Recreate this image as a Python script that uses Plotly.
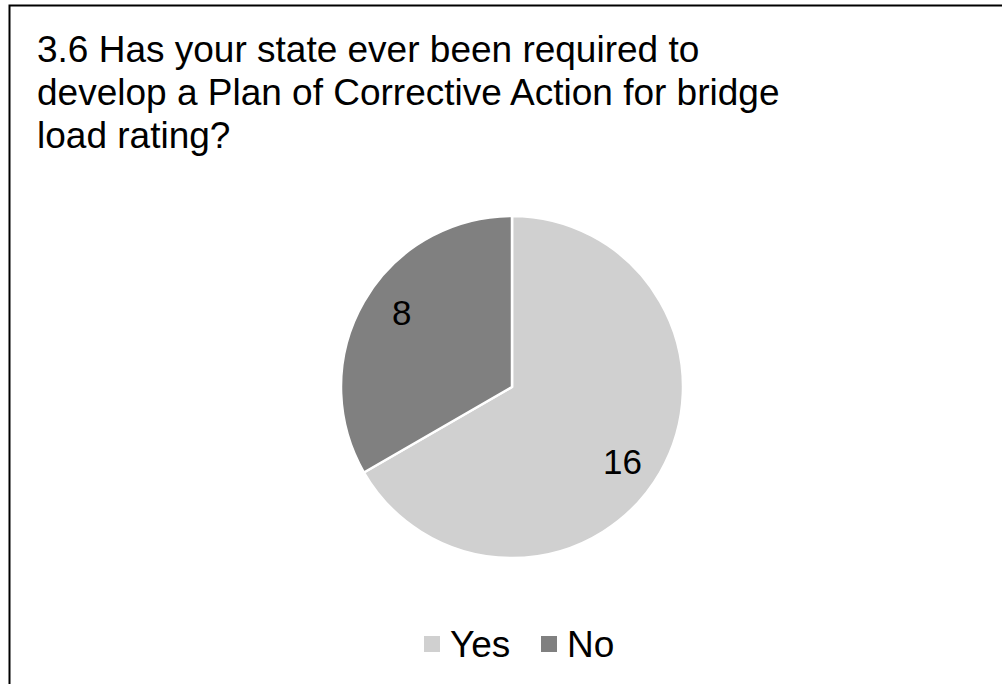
import math
import plotly.graph_objects as go

labels = ["Yes", "No"]
values = [16, 8]
colors = ["#d0d0d0", "#808080"]
title_lines = [
    "3.6 Has your state ever been required to",
    "develop a Plan of Corrective Action for bridge",
    "load rating?",
]

W, H = 1002, 684
FONT = "Liberation Sans, Arial, sans-serif"

# pie placement (pixels)
CX, CY, R = 512, 387, 171
LABEL_R = 0.78 * R
LABEL_TURN = math.radians(4)  # labels sit slightly clockwise of each slice's middle

fig = go.Figure(
    go.Pie(
        labels=labels,
        values=values,
        marker=dict(colors=colors, line=dict(color="white", width=2.5)),
        sort=False,
        direction="clockwise",
        rotation=0,
        textinfo="none",
        domain=dict(x=[(CX - R) / W, (CX + R) / W], y=[(H - CY - R) / H, (H - CY + R) / H]),
        hoverinfo="label+value",
        showlegend=False,
    )
)

annotations = []
shapes = []

# title lines, one annotation each for tight line spacing
line_centers = [50, 92, 135]
for text, yc in zip(title_lines, line_centers):
    annotations.append(
        dict(
            text=text, x=35 / W, y=1 - yc / H,
            xref="paper", yref="paper", xanchor="left", yanchor="middle",
            showarrow=False, font=dict(family=FONT, size=37, color="black"),
        )
    )

# value labels near the mid-angle of each slice (clockwise from 12 o'clock)
total = sum(values)
cum = 0
for v in values:
    mid = (cum + v / 2) / total * 2 * math.pi + LABEL_TURN
    cum += v
    px = CX + LABEL_R * math.sin(mid)
    py = CY - LABEL_R * math.cos(mid)
    annotations.append(
        dict(
            text=str(v), x=px / W, y=1 - py / H,
            xref="paper", yref="paper", xanchor="center", yanchor="middle",
            showarrow=False, font=dict(family=FONT, size=35, color="black"),
        )
    )

# legend: square swatch followed by label
legend_x = [424, 541]
LEG_Y, SW = 644, 16
for lab, col, lx in zip(labels, colors, legend_x):
    shapes.append(
        dict(
            type="rect", xref="paper", yref="paper",
            x0=lx / W, x1=(lx + SW) / W,
            y0=1 - (LEG_Y + SW / 2) / H, y1=1 - (LEG_Y - SW / 2) / H,
            fillcolor=col, line=dict(width=0),
        )
    )
    annotations.append(
        dict(
            text=lab, x=(lx + SW + 8) / W, y=1 - LEG_Y / H,
            xref="paper", yref="paper", xanchor="left", yanchor="middle",
            showarrow=False, font=dict(family=FONT, size=37, color="black"),
        )
    )

# chart frame
shapes.append(
    dict(
        type="rect", xref="paper", yref="paper",
        x0=9.5 / W, x1=1.02, y0=-0.02, y1=1 - 5.5 / H,
        line=dict(color="black", width=2),
    )
)

fig.update_layout(
    width=W,
    height=H,
    margin=dict(l=0, r=0, t=0, b=0),
    paper_bgcolor="white",
    plot_bgcolor="white",
    annotations=annotations,
    shapes=shapes,
    showlegend=False,
)

fig.write_html("out.html")
